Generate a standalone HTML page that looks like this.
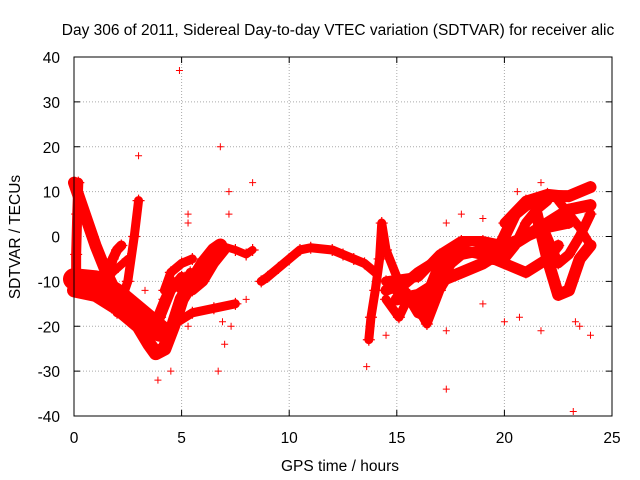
<!DOCTYPE html>
<html><head><meta charset="utf-8"><style>
body{margin:0;background:#fff}
svg{display:block;font-family:"Liberation Sans",sans-serif;font-size:15.5px}
</style></head><body>
<svg id="chart" width="640" height="480"></svg>
<script>
const xTicks=[0,5,10,15,20,25];
const yTicks=[40,30,20,10,0,-10,-20,-30,-40];
const tracks=[
[[0,12],[0.5,5],[1,-2],[1.5,-8],[2,-13],[2.5,-17],[3,-19],[3.5,-21],[4,-20]],
[[0,-12],[1,-13],[2,-16],[3,-20],[3.5,-24],[3.8,-26],[4.2,-25],[4.6,-20],[5,-14],[5.5,-10],[6,-6],[6.5,-3],[6.8,-2]],
[[0,-11],[1,-11],[1.5,-10],[1.8,-5],[2,-3],[2.2,-2]],
[[0,-9.5],[1,-10],[2,-13],[3,-17],[3.5,-19],[4,-21]],
[[2,-17],[2.5,-10],[2.8,0],[3,8]],
[[1.2,-12],[1.8,-8],[2.5,-5]],
[[0.1,-12],[0.1,-4],[0.15,5],[0.2,12]],
[[4.5,-20],[5.5,-17],[6.5,-16],[7.5,-15]],
[[4.2,-12],[4.5,-8],[5,-6],[5.5,-5]],
[[4,-18],[4.5,-12],[5,-9],[5.5,-12],[6,-10],[6.5,-6],[7,-3]],
[[3.7,-20],[4.2,-14],[4.6,-10],[5,-12],[5.4,-8],[5.8,-10]],
[[6.8,-2],[7.5,-3],[8,-4],[8.3,-3]],
[[8.7,-10],[9,-9],[9.5,-7],[10,-5],[10.5,-3],[11,-2.5],[12,-3],[12.5,-4],[13,-5],[13.5,-6],[14,-8]],
[[13.7,-23],[13.8,-18],[14,-12],[14.2,-5],[14.3,3],[14.5,-3],[15,-9],[15.5,-13],[16,-15],[16.5,-12]],
[[14.5,-12],[15,-11],[15.5,-13],[16,-17],[16.5,-12],[17,-6],[17.5,-3]],
[[14.5,-14],[15.1,-18],[15.6,-13],[16.4,-19.5],[17,-12],[17.5,-8]],
[[16.5,-17],[17,-10],[17.5,-6],[18,-4],[19,-3],[20,-2],[21,0],[22,2],[23,3]],
[[15,-12],[16,-8],[17,-5],[18,-3],[19,-4],[20,-6],[21,-8],[22,-5],[22.5,-2]],
[[14.5,-10],[16,-9],[17,-4],[18,-1],[19,-1],[20,-2]],
[[15,-14],[16,-13],[17,-10],[18,-8],[19,-6],[20,-3],[21,0],[22,3],[23,6],[24,7]],
[[19.5,-5],[20,0],[20.5,5],[21,7],[22,9],[23,9],[23.5,10],[24,11]],
[[20,3],[21,8],[22,9.5],[23,9]],
[[21.5,5],[22,-5],[22.5,-13],[23,-12],[23.5,-5],[24,-2]],
[[22.5,8],[23,5],[23.5,2],[24,-2]],
[[20,-5],[20.5,-2],[21,3],[21.5,6],[22,8]],
[[21.8,2],[22.5,-6],[23,-4],[23.5,0],[24,5]]
];
const trackWidths=[12,14,10,22,9,8,10,9,9,10,9,8,9,9,11,9,11,11,10,12,12,10,12,9,10,10];
const outliers=[[4.9,37],[3,18],[6.8,20],[8.3,12],[3.9,-32],[4.5,-30],[6.7,-30],[7,-24],[13.6,-29],[17.3,-34],[23.2,-39],[23.3,-19],[23.5,-20],[24,-22],[21.7,-21],[20.7,-18],[7.3,-20],[7.2,10],[5.3,5],[5.3,3],[18,5],[17.3,3],[19,4],[21.7,12],[20,-19],[17.3,-21],[14.5,-22],[19,-15],[6.9,-19],[5.3,-20],[7.2,5],[8,-14],[3.3,-12],[20.6,10]];
const X0=74,X1=612,Y0=416,Y1=57;
const sx=v=>X0+(v-0)/25*(X1-X0);
const sy=v=>Y0-(v+40)/80*(Y0-Y1);
const svg=document.getElementById('chart');
const NS='http://www.w3.org/2000/svg';
function mk(t,a){const e=document.createElementNS(NS,t);for(const k in a)e.setAttribute(k,a[k]);svg.appendChild(e);return e;}
let e;
xTicks.forEach(t=>{
 if(t>0&&t<25){e=mk('line',{x1:sx(t),x2:sx(t),y1:Y0,y2:Y1,stroke:'#aaa','stroke-dasharray':'1,2'});}
 e=mk('text',{x:sx(t),y:Y0+27,'text-anchor':'middle'});e.textContent=t;
 
 mk('line',{x1:sx(t),x2:sx(t),y1:Y0,y2:Y0-6,stroke:'#000'});mk('line',{x1:sx(t),x2:sx(t),y1:Y1,y2:Y1+6,stroke:'#000'});
});
yTicks.forEach(t=>{
 if(t>-40&&t<40){e=mk('line',{x1:X0,x2:X1,y1:sy(t),y2:sy(t),stroke:'#aaa','stroke-dasharray':'1,2'});}
 e=mk('text',{x:X0-14,y:sy(t)+6,'text-anchor':'end'});e.textContent=t;
 
 mk('line',{x1:X0,x2:X0+6,y1:sy(t),y2:sy(t),stroke:'#000'});mk('line',{x1:X1,x2:X1-6,y1:sy(t),y2:sy(t),stroke:'#000'});
});
tracks.forEach((tr,i)=>{
 e=mk('polyline',{points:tr.map(p=>sx(p[0])+','+sy(p[1])).join(' '),fill:'none',stroke:'#f00','stroke-width':trackWidths[i]||10,'stroke-linejoin':'round','stroke-linecap':'round'});
 
 tr.forEach(p=>{mk('path',{d:`M${sx(p[0])-6},${sy(p[1])}h12M${sx(p[0])},${sy(p[1])-6}v12`,stroke:'#f00','stroke-width':1.2});});
});
outliers.forEach(p=>{
 e=mk('path',{d:`M${sx(p[0])-3.5},${sy(p[1])}h7M${sx(p[0])},${sy(p[1])-3.5}v7`,stroke:'#f00','stroke-width':1});
 
});
e=mk('rect',{x:X0,y:Y1,width:X1-X0,height:Y0-Y1,fill:'none',stroke:'#000'});

e=mk('text',{x:338,y:35,'text-anchor':'middle'});e.textContent='Day 306 of 2011, Sidereal Day-to-day VTEC variation (SDTVAR) for receiver alic';

e=mk('text',{x:340,y:471,'text-anchor':'middle'});e.textContent='GPS time / hours';

e=mk('text',{x:20,y:237,'text-anchor':'middle',transform:'rotate(-90 20 237)'});e.textContent='SDTVAR / TECUs';

</script>
</body></html>
